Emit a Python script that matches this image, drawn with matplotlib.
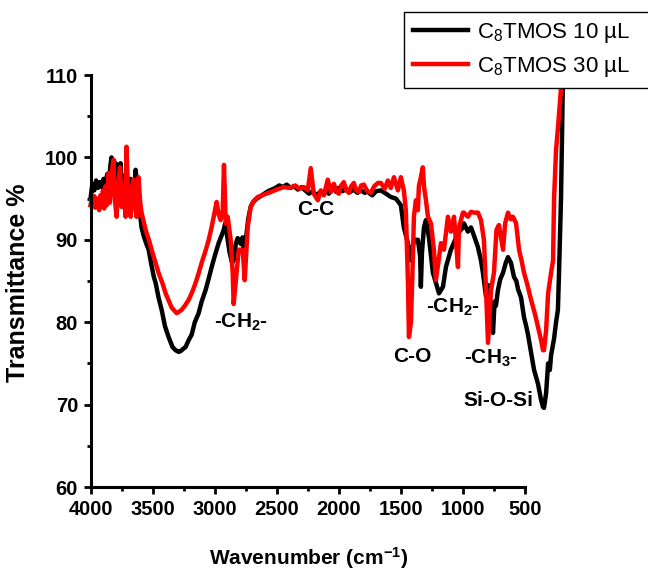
import matplotlib
matplotlib.use("Agg")
import matplotlib.pyplot as plt
from matplotlib.ticker import MultipleLocator

# ---- data (wavenumber cm-1, transmittance %) ----
wn_10 = [4000, 3985, 3970, 3955, 3940, 3925, 3910, 3895, 3880, 3865, 3850, 3840,
         3831, 3820, 3810, 3800, 3790, 3780, 3770, 3758, 3750, 3740, 3730, 3720,
         3710, 3700, 3690, 3680, 3670, 3660, 3650, 3637, 3625, 3613, 3600, 3589,
         3570, 3550, 3532, 3510, 3490, 3476, 3452, 3427, 3400, 3371, 3340, 3315,
         3290, 3274, 3250, 3234, 3210, 3185, 3160, 3129, 3105, 3073, 3048, 3024,
         3000, 2968, 2945, 2927, 2915, 2900, 2880, 2860, 2845, 2830, 2815, 2800,
         2790, 2775, 2760, 2745, 2730, 2710, 2690, 2660, 2630, 2600, 2570, 2540,
         2510, 2480, 2450, 2420, 2390, 2360, 2330, 2300, 2270, 2240, 2210, 2180,
         2150, 2120, 2100, 2080, 2050, 2020, 2000, 1970, 1940, 1910, 1880, 1850,
         1820, 1790, 1770, 1750, 1730, 1700, 1661, 1620, 1581, 1540, 1500, 1476,
         1443, 1419, 1395, 1363, 1345, 1339, 1330, 1314, 1298, 1274, 1242, 1218,
         1193, 1161, 1137, 1097, 1040, 1000, 992, 960, 935, 911, 879, 855, 839,
         814, 795, 774, 758, 745, 734, 718, 700, 677, 655, 637, 613, 589, 570,
         556, 532, 508, 490, 476, 451, 427, 410, 395, 371, 355, 347, 330, 314,
         300, 290, 266, 250, 235, 226, 210, 193]
t_10 = [95.0, 96.8, 96.0, 97.2, 96.3, 97.0, 96.4, 97.4, 96.8, 98.0, 97.2, 99.0,
        100.0, 98.6, 99.6, 97.8, 99.2, 97.0, 98.0, 99.3, 96.5, 97.8, 96.2, 97.4,
        96.0, 97.0, 95.8, 97.4, 96.3, 97.0, 96.0, 98.5, 96.8, 95.7, 93.0, 91.5,
        90.4, 89.5, 88.8, 87.0, 85.5, 84.8, 83.0, 81.5, 79.5, 78.2, 77.0, 76.6,
        76.4, 76.5, 76.8, 77.0, 77.8, 78.5, 80.0, 81.1, 82.5, 83.9, 85.3, 86.7,
        88.0, 89.6, 90.5, 91.2, 92.0, 90.5, 88.5, 87.2, 87.6, 89.5, 90.2, 90.0,
        89.5, 90.3, 87.3, 90.5, 92.5, 94.0, 94.6, 95.0, 95.3, 95.6, 95.9, 96.1,
        96.3, 96.6, 96.4, 96.7, 96.3, 96.5, 96.1, 96.4, 96.0, 95.6, 95.9, 95.4,
        95.8, 95.5, 96.2, 95.6, 96.4, 95.8, 96.3, 95.9, 96.2, 95.8, 96.1, 95.7,
        96.0, 95.7, 95.9, 95.6, 95.4, 95.9, 96.0, 95.6, 95.2, 95.0, 94.2, 91.5,
        89.6, 87.5, 90.0, 90.0, 88.0, 84.3, 88.5, 91.5, 92.4, 90.3, 86.0, 84.8,
        83.5, 84.3, 86.7, 88.8, 90.8, 91.5, 92.0, 91.0, 91.5, 90.5, 89.1, 87.5,
        86.0, 83.1, 84.5, 81.8, 78.7, 82.5, 82.0, 83.9, 85.2, 86.0, 87.2, 87.9,
        87.2, 85.5, 85.0, 84.0, 83.0, 80.6, 79.5, 78.5, 76.3, 74.2, 73.3, 72.5,
        70.6, 69.7, 69.6, 71.4, 75.0, 74.2, 76.0, 78.0, 80.0, 81.5, 86.0, 95.0,
        111.0]

wn_30 = [4000, 3990, 3980, 3970, 3960, 3950, 3940, 3930, 3920, 3910, 3900, 3890,
         3880, 3870, 3855, 3845, 3830, 3815, 3805, 3790, 3775, 3762, 3750, 3735,
         3718, 3710, 3695, 3677, 3665, 3653, 3640, 3629, 3620, 3613, 3600, 3589,
         3556, 3530, 3508, 3480, 3452, 3420, 3395, 3370, 3347, 3325, 3306, 3285,
         3266, 3240, 3210, 3180, 3153, 3130, 3105, 3075, 3048, 3025, 3008, 2984,
         2970, 2952, 2935, 2925, 2911, 2895, 2871, 2855, 2847, 2831, 2806, 2774,
         2758, 2734, 2710, 2680, 2653, 2600, 2548, 2500, 2443, 2400, 2350, 2320,
         2282, 2250, 2226, 2202, 2169, 2145, 2120, 2089, 2064, 2040, 2020, 2000,
         1980, 1960, 1940, 1919, 1900, 1879, 1860, 1839, 1820, 1798, 1770, 1742,
         1715, 1685, 1661, 1630, 1605, 1581, 1556, 1524, 1500, 1476, 1460, 1443,
         1435, 1419, 1403, 1395, 1379, 1363, 1355, 1339, 1323, 1314, 1298, 1282,
         1258, 1234, 1218, 1201, 1177, 1153, 1121, 1097, 1072, 1040, 1032, 1000,
         992, 960, 935, 911, 879, 855, 831, 814, 798, 785, 774, 750, 730, 710,
         690, 677, 660, 637, 615, 597, 572, 548, 528, 508, 480, 451, 420, 395,
         370, 355, 347, 330, 314, 290, 274, 266, 250, 234, 210, 190]
t_30 = [94.2, 95.0, 94.0, 95.3, 93.9, 95.0, 94.3, 93.6, 95.4, 94.0, 96.0, 93.8,
        96.5, 94.2, 98.1, 94.5, 98.2, 99.7, 95.0, 92.8, 97.0, 98.8, 94.0, 96.5,
        92.8, 101.3, 94.0, 92.8, 96.5, 97.3, 94.0, 92.8, 95.5, 97.6, 94.5, 93.3,
        91.2, 90.0, 88.8, 87.4, 86.0, 84.7, 83.5, 82.6, 81.8, 81.4, 81.1, 81.3,
        81.5, 82.0, 82.7, 83.7, 84.8, 85.9, 87.2, 88.6, 90.0, 91.5, 92.8, 94.6,
        93.2, 92.4, 93.5, 99.1, 92.0, 92.8, 90.0, 86.0, 82.2, 84.8, 88.8, 88.8,
        85.1, 91.5, 94.0, 94.8, 95.2, 95.5, 95.8, 96.1, 96.4, 96.3, 96.6, 96.2,
        96.4, 96.0, 98.7, 95.6, 94.8, 96.0, 95.4, 97.3, 95.8, 96.8, 95.9, 95.6,
        96.6, 97.0, 96.0, 95.7, 96.5, 96.9, 96.0, 95.8, 96.6, 96.7, 95.9, 95.7,
        96.5, 96.9, 96.9, 96.2, 97.2, 96.3, 97.6, 96.0, 97.6, 96.0, 93.6, 84.8,
        78.2, 80.0, 87.9, 92.8, 94.8, 93.6, 96.5, 97.6, 98.8, 96.5, 94.8, 92.8,
        92.0, 88.8, 85.1, 87.0, 89.6, 88.8, 92.8, 91.0, 92.8, 86.7, 91.5, 93.3,
        93.3, 92.8, 93.4, 93.3, 93.3, 92.4, 90.0, 83.9, 77.5, 81.0, 83.9, 86.0, 91.2, 91.8,
        90.0, 88.8, 92.0, 93.3, 92.5, 92.8, 92.0, 88.8, 87.5, 86.0, 84.5, 82.7, 81.0, 79.4,
        77.8, 76.6, 76.6, 79.0, 83.5, 86.0, 87.5, 95.0, 100.9, 103.7, 108.4, 113.0]

labels = ["C$_\\mathregular{8}$TMOS 10 µL", "C$_\\mathregular{8}$TMOS 30 µL"]

# band labels: (text, wavenumber, transmittance)
bands = [("-CH$_\\mathbf{2}$-", 2790, 79.3),
         ("C-C", 2185, 93.0),
         ("C-O", 1411, 75.2),
         ("-CH$_\\mathbf{2}$-", 1080, 81.1),
         ("-CH$_\\mathbf{3}$-", 774, 75.0),
         ("Si-O-Si", 718, 69.8)]

plt.rcParams.update({"font.family": "Liberation Sans",
                     "mathtext.fontset": "custom",
                     "mathtext.rm": "Liberation Sans",
                     "mathtext.it": "Liberation Sans:italic",
                     "mathtext.bf": "Liberation Sans:bold"})

fig = plt.figure(figsize=(6.48, 5.71), dpi=100)
ax = fig.add_axes([0.1397, 0.1471, 0.6705, 0.7215])

ax.plot(wn_10, t_10, color="black", lw=3.2, clip_on=False, label=labels[0])
ax.plot(wn_30, t_30, color="#ff0000", lw=3.2, clip_on=False, label=labels[1])

ax.set_xlim(4000, 500)
ax.set_ylim(60, 110)
ax.xaxis.set_major_locator(MultipleLocator(500))
ax.xaxis.set_minor_locator(MultipleLocator(250))
ax.yaxis.set_major_locator(MultipleLocator(10))
ax.yaxis.set_minor_locator(MultipleLocator(5))

for s in ("top", "right"):
    ax.spines[s].set_visible(False)
for s in ("left", "bottom"):
    ax.spines[s].set_linewidth(2.2)
ax.tick_params(which="major", direction="out", length=5, width=2, labelsize=14.5, pad=4)
ax.tick_params(which="minor", direction="out", length=3, width=2)
for lab in ax.get_xticklabels() + ax.get_yticklabels():
    lab.set_fontweight("bold")

ax.set_xlabel("Wavenumber (cm$^\\mathbf{-1}$)", fontsize=15, fontweight="bold")
ax.set_ylabel("Transmittance %", fontsize=18, fontweight="bold")
ax.xaxis.set_label_coords(0.503, -0.14)
ax.yaxis.set_label_coords(-0.139, 0.495)

for txt, x, y in bands:
    ax.text(x, y, txt, ha="center", va="baseline", fontsize=15, fontweight="bold")

leg = ax.legend(loc="upper left", mode="expand", bbox_to_anchor=(0.6235, 0.849, 0.40, 0.13),
                bbox_transform=fig.transFigure, borderaxespad=0, fontsize=16,
                handlelength=2.5, handletextpad=0.4, labelspacing=0.45, borderpad=0.4,
                fancybox=False, framealpha=1, edgecolor="black")
leg.get_frame().set_linewidth(1.0)
for h in leg.get_lines():
    h.set_linewidth(3.2)

fig.savefig("out.png", dpi=100)
